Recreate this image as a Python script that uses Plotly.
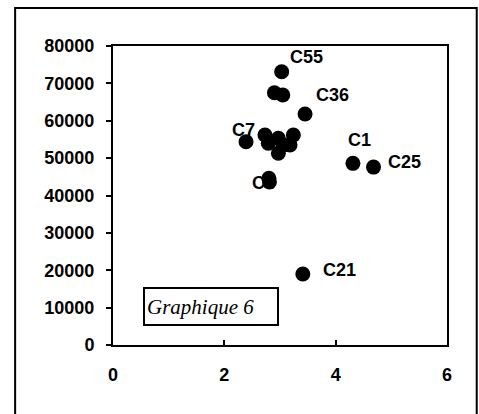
import plotly.graph_objects as go

# Scatter data
x_vals = [3.03, 2.90, 3.05, 3.45, 2.39, 2.73, 2.79, 2.97, 2.97, 3.24, 3.18, 3.06,
          4.31, 4.68, 3.41, 2.80, 2.81]
y_vals = [73100, 67500, 66900, 61800, 54400, 56200, 54000, 55300, 51300, 56200, 53500, 53500,
          48600, 47600, 19000, 44600, 43600]

# Labelled points
label_names = ["C55", "C36", "C7", "C1", "C25", "C21", "C4"]
label_x = [3.03, 3.45, 2.39, 4.31, 4.68, 3.41, 2.80]
label_y = [73100, 61800, 54400, 48600, 47600, 19000, 44600]

# Label offsets in pixels (dx, dy)
label_shift = {
    "C55": (25, 15), "C36": (27, 19), "C7": (-3, 12), "C1": (7, 23),
    "C25": (31, 5), "C21": (37, 4), "C4": (-5, -5),
}

x_ticks = [0, 2, 4, 6]
y_ticks = [0, 10000, 20000, 30000, 40000, 50000, 60000, 70000, 80000]

font_main = "Liberation Sans, Arial, sans-serif"

fig = go.Figure()
fig.add_trace(go.Scatter(
    x=x_vals, y=y_vals, mode="markers",
    marker=dict(size=15, color="black", line=dict(width=0)),
    hoverinfo="skip", showlegend=False, cliponaxis=False,
))

annotations = []
for name, lx, ly in zip(label_names, label_x, label_y):
    dx, dy = label_shift[name]
    annotations.append(dict(
        x=lx, y=ly, xref="x", yref="y", text="<b>%s</b>" % name, showarrow=False,
        xshift=dx, yshift=dy, font=dict(family=font_main, size=18, color="black"),
    ))

# Caption box inside the plot
annotations.append(dict(
    x=0.0898, y=0.129, xref="paper", yref="paper", xanchor="left", yanchor="middle",
    text="<i>Graphique 6</i>", showarrow=False, align="left",
    width=128, height=31,
    font=dict(family="Liberation Serif, Times New Roman, serif", size=21, color="black"),
    bordercolor="black", borderwidth=2, borderpad=2, bgcolor="white",
))

fig.update_layout(
    width=479, height=414,
    margin=dict(l=113, r=32, t=46, b=69),
    paper_bgcolor="white", plot_bgcolor="white",
    annotations=annotations,
    shapes=[dict(
        type="rect", xref="paper", yref="paper",
        x0=-0.293, x1=1.089, y0=-0.35, y1=1.127,
        line=dict(color="black", width=2), layer="below",
    )],
)

tick_font = dict(family=font_main, size=18, color="black", weight="bold")

fig.update_xaxes(
    range=[0, 6], tickvals=x_ticks, ticktext=[str(v) for v in x_ticks],
    showgrid=False, zeroline=False, showline=True, linecolor="black", linewidth=2,
    mirror=True, ticks="inside", ticklen=5, tickwidth=1.5, tickcolor="black",
    tickfont=tick_font, ticklabelstandoff=12,
)
fig.update_yaxes(
    range=[0, 80000], tickvals=y_ticks, ticktext=[str(v) for v in y_ticks],
    showgrid=False, zeroline=False, showline=True, linecolor="black", linewidth=2,
    mirror=True, ticks="outside", ticklen=5, tickwidth=1.5, tickcolor="black",
    tickfont=tick_font, ticklabelstandoff=8,
)

fig.write_html("out.html")
